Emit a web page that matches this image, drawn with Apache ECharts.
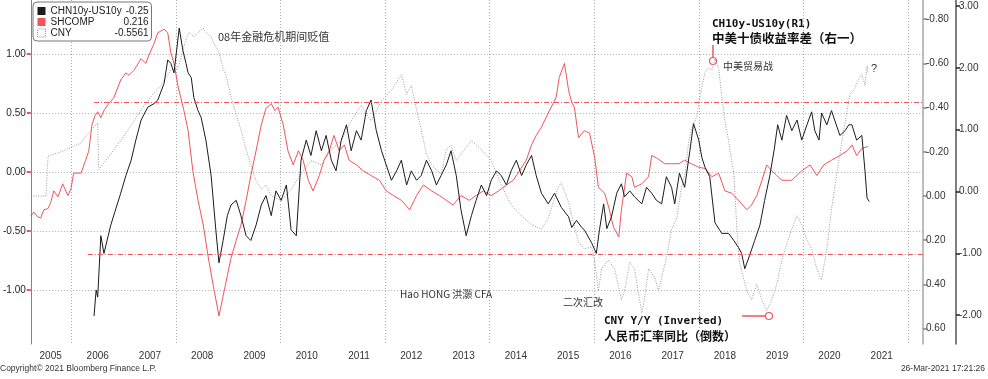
<!DOCTYPE html>
<html><head><meta charset="utf-8">
<script src="https://cdn.jsdelivr.net/npm/echarts@6/dist/echarts.min.js"></script>
<style>html,body{margin:0;padding:0;background:#fff}#c{width:988px;height:379px}</style>
</head><body><div id="c"></div>
<script>
// ---- data (x = decimal year) ----
const shcomp = [[2005.22,-0.37],[2005.28,-0.34],[2005.35,-0.38],[2005.41,-0.39],[2005.47,-0.32],[2005.55,-0.31],[2005.60,-0.26],[2005.66,-0.16],[2005.74,-0.21],[2005.83,-0.10],[2005.93,-0.20],[2005.99,-0.14],[2006.04,-0.01],[2006.18,-0.01],[2006.27,0.10],[2006.33,0.18],[2006.39,0.40],[2006.45,0.48],[2006.50,0.51],[2006.56,0.46],[2006.62,0.52],[2006.71,0.58],[2006.81,0.63],[2006.94,0.78],[2007.04,0.84],[2007.10,0.82],[2007.19,0.86],[2007.33,0.96],[2007.42,0.92],[2007.48,0.99],[2007.58,1.09],[2007.65,1.18],[2007.77,1.21],[2007.84,1.18],[2007.90,1.01],[2007.96,0.92],[2008.04,0.72],[2008.09,0.63],[2008.15,0.52],[2008.23,0.35],[2008.32,0.01],[2008.42,-0.24],[2008.52,-0.45],[2008.61,-0.71],[2008.71,-0.96],[2008.82,-1.22],[2008.90,-1.05],[2008.98,-0.88],[2009.05,-0.73],[2009.15,-0.58],[2009.24,-0.45],[2009.34,-0.24],[2009.43,-0.03],[2009.53,0.18],[2009.63,0.40],[2009.72,0.54],[2009.82,0.58],[2009.89,0.52],[2009.95,0.55],[2010.05,0.40],[2010.14,0.18],[2010.24,0.06],[2010.34,0.18],[2010.43,0.10],[2010.53,-0.07],[2010.62,-0.16],[2010.74,-0.03],[2010.83,0.10],[2010.93,0.18],[2011.02,0.31],[2011.12,0.18],[2011.22,0.23],[2011.31,0.10],[2011.45,0.06],[2011.58,0.01],[2011.73,-0.03],[2011.89,-0.07],[2012.02,-0.16],[2012.16,-0.20],[2012.31,-0.24],[2012.47,-0.32],[2012.60,-0.20],[2012.73,-0.11],[2012.89,-0.16],[2013.04,-0.20],[2013.17,-0.24],[2013.30,-0.28],[2013.45,-0.20],[2013.61,-0.24],[2013.74,-0.20],[2013.88,-0.16],[2014.03,-0.20],[2014.17,-0.16],[2014.32,-0.11],[2014.45,-0.07],[2014.57,0.01],[2014.70,0.10],[2014.80,0.23],[2014.89,0.31],[2014.99,0.38],[2015.12,0.50],[2015.27,0.63],[2015.33,0.80],[2015.43,0.92],[2015.51,0.69],[2015.57,0.59],[2015.62,0.55],[2015.70,0.29],[2015.81,0.35],[2015.91,0.33],[2016.01,0.12],[2016.08,-0.13],[2016.20,-0.18],[2016.29,-0.32],[2016.37,-0.47],[2016.47,-0.55],[2016.52,-0.32],[2016.62,-0.01],[2016.72,-0.04],[2016.77,-0.13],[2016.91,-0.10],[2017.04,-0.04],[2017.10,0.14],[2017.19,0.12],[2017.35,0.07],[2017.48,0.07],[2017.62,0.07],[2017.73,0.10],[2017.86,0.07],[2018.00,0.04],[2018.12,0.03],[2018.25,-0.04],[2018.38,-0.01],[2018.50,-0.16],[2018.63,-0.18],[2018.76,-0.24],[2018.82,-0.27],[2018.92,-0.32],[2019.01,-0.28],[2019.11,-0.20],[2019.21,-0.07],[2019.30,0.06],[2019.40,0.01],[2019.49,-0.03],[2019.59,-0.07],[2019.78,-0.07],[2019.97,0.01],[2020.13,0.06],[2020.26,-0.03],[2020.39,0.06],[2020.54,0.10],[2020.70,0.14],[2020.84,0.18],[2020.93,0.23],[2021.02,0.14],[2021.12,0.20],[2021.24,0.216]];
const spread = [[2006.43,-1.22],[2006.47,-1.00],[2006.50,-1.06],[2006.56,-0.54],[2006.62,-0.69],[2006.75,-0.45],[2006.94,-0.18],[2007.04,-0.03],[2007.14,0.10],[2007.23,0.27],[2007.33,0.44],[2007.46,0.55],[2007.58,0.58],[2007.65,0.61],[2007.77,0.75],[2007.84,0.95],[2007.90,0.92],[2007.96,0.84],[2008.06,1.22],[2008.13,1.03],[2008.19,0.92],[2008.23,0.84],[2008.29,0.80],[2008.34,0.63],[2008.42,0.52],[2008.48,0.46],[2008.57,0.27],[2008.67,-0.03],[2008.76,-0.49],[2008.82,-0.77],[2008.90,-0.58],[2008.98,-0.37],[2009.05,-0.28],[2009.15,-0.24],[2009.24,-0.37],[2009.34,-0.54],[2009.43,-0.58],[2009.53,-0.45],[2009.63,-0.28],[2009.72,-0.20],[2009.82,-0.37],[2009.91,-0.16],[2010.01,-0.24],[2010.11,-0.11],[2010.20,-0.49],[2010.30,-0.54],[2010.39,0.10],[2010.49,0.27],[2010.58,0.14],[2010.68,0.35],[2010.78,0.18],[2010.87,0.31],[2010.97,0.10],[2011.06,0.01],[2011.16,0.27],[2011.26,0.40],[2011.35,0.18],[2011.45,0.35],[2011.54,0.27],[2011.64,0.52],[2011.73,0.61],[2011.83,0.35],[2011.93,0.18],[2012.02,0.06],[2012.12,-0.07],[2012.22,0.01],[2012.31,0.10],[2012.41,-0.11],[2012.50,0.01],[2012.60,-0.07],[2012.69,-0.03],[2012.79,0.10],[2012.89,0.01],[2012.98,-0.11],[2013.07,-0.03],[2013.17,0.06],[2013.26,0.18],[2013.36,-0.03],[2013.45,-0.32],[2013.55,-0.54],[2013.65,-0.37],[2013.74,-0.24],[2013.84,-0.11],[2013.94,-0.20],[2014.03,-0.07],[2014.13,0.01],[2014.22,-0.03],[2014.32,-0.11],[2014.41,0.01],[2014.51,0.10],[2014.61,-0.03],[2014.70,0.06],[2014.80,0.14],[2014.89,-0.03],[2014.99,-0.18],[2015.12,-0.27],[2015.24,-0.18],[2015.37,-0.30],[2015.51,-0.38],[2015.57,-0.47],[2015.66,-0.41],[2015.76,-0.47],[2015.81,-0.49],[2015.95,-0.60],[2016.04,-0.69],[2016.10,-0.49],[2016.18,-0.27],[2016.24,-0.48],[2016.33,-0.38],[2016.43,-0.18],[2016.52,-0.10],[2016.58,-0.21],[2016.68,-0.16],[2016.77,-0.21],[2016.91,-0.27],[2017.00,-0.13],[2017.10,-0.18],[2017.19,-0.24],[2017.29,-0.27],[2017.38,-0.04],[2017.48,-0.13],[2017.54,-0.27],[2017.63,-0.01],[2017.73,-0.13],[2017.83,0.18],[2017.90,0.41],[2018.00,0.27],[2018.06,0.12],[2018.12,0.04],[2018.21,-0.04],[2018.31,-0.43],[2018.44,-0.52],[2018.57,-0.52],[2018.67,-0.58],[2018.76,-0.64],[2018.82,-0.69],[2018.88,-0.82],[2018.97,-0.71],[2019.07,-0.58],[2019.17,-0.45],[2019.26,-0.24],[2019.36,-0.03],[2019.44,0.18],[2019.51,0.40],[2019.59,0.27],[2019.68,0.48],[2019.78,0.35],[2019.88,0.44],[2019.97,0.27],[2020.07,0.40],[2020.16,0.51],[2020.22,0.35],[2020.30,0.27],[2020.35,0.50],[2020.45,0.40],[2020.54,0.52],[2020.60,0.44],[2020.70,0.31],[2020.80,0.35],[2020.87,0.40],[2020.93,0.40],[2021.02,0.27],[2021.12,0.31],[2021.18,0.01],[2021.22,-0.22],[2021.26,-0.25]];
const cny = [[2005.22,0.00],[2005.51,0.00],[2005.55,-0.18],[2005.80,-0.20],[2005.99,-0.22],[2006.18,-0.24],[2006.27,-0.27],[2006.50,-0.33],[2006.52,-0.12],[2006.56,-0.13],[2006.75,-0.19],[2006.94,-0.25],[2007.14,-0.32],[2007.33,-0.39],[2007.52,-0.45],[2007.71,-0.50],[2007.90,-0.57],[2008.04,-0.58],[2008.13,-0.66],[2008.19,-0.71],[2008.25,-0.74],[2008.34,-0.72],[2008.42,-0.74],[2008.52,-0.76],[2008.57,-0.74],[2008.67,-0.72],[2008.73,-0.69],[2008.82,-0.65],[2008.90,-0.58],[2008.96,-0.54],[2009.05,-0.45],[2009.11,-0.40],[2009.24,-0.30],[2009.34,-0.21],[2009.43,-0.14],[2009.53,-0.07],[2009.63,-0.03],[2009.72,-0.05],[2009.82,0.00],[2010.01,0.02],[2010.20,-0.03],[2010.39,-0.10],[2010.58,-0.16],[2010.78,-0.14],[2010.97,-0.21],[2011.16,-0.25],[2011.35,-0.34],[2011.54,-0.41],[2011.73,-0.34],[2011.93,-0.43],[2012.12,-0.48],[2012.31,-0.55],[2012.41,-0.46],[2012.50,-0.50],[2012.60,-0.39],[2012.69,-0.30],[2012.79,-0.19],[2012.89,-0.14],[2013.07,-0.10],[2013.17,-0.21],[2013.26,-0.23],[2013.36,-0.16],[2013.45,-0.19],[2013.65,-0.25],[2013.84,-0.21],[2014.03,-0.16],[2014.22,-0.05],[2014.41,0.04],[2014.61,0.09],[2014.80,0.13],[2014.99,0.15],[2015.12,0.10],[2015.31,-0.04],[2015.37,-0.06],[2015.51,0.03],[2015.62,0.14],[2015.70,0.21],[2015.81,0.24],[2015.95,0.23],[2016.01,0.30],[2016.08,0.43],[2016.14,0.33],[2016.27,0.29],[2016.39,0.33],[2016.52,0.47],[2016.58,0.43],[2016.68,0.30],[2016.77,0.33],[2016.91,0.53],[2016.96,0.47],[2017.04,0.33],[2017.16,0.37],[2017.23,0.43],[2017.29,0.37],[2017.38,0.28],[2017.48,0.15],[2017.58,0.10],[2017.67,-0.04],[2017.73,-0.09],[2017.81,-0.25],[2017.86,-0.30],[2017.96,-0.36],[2018.02,-0.45],[2018.12,-0.56],[2018.19,-0.58],[2018.25,-0.57],[2018.31,-0.62],[2018.38,-0.58],[2018.44,-0.45],[2018.50,-0.34],[2018.57,-0.25],[2018.67,-0.10],[2018.73,0.15],[2018.78,0.30],[2018.92,0.43],[2019.01,0.47],[2019.11,0.40],[2019.21,0.47],[2019.30,0.52],[2019.40,0.47],[2019.49,0.40],[2019.59,0.29],[2019.68,0.22],[2019.78,0.15],[2019.88,0.09],[2019.97,0.13],[2020.07,0.20],[2020.16,0.24],[2020.26,0.33],[2020.35,0.38],[2020.45,0.24],[2020.54,0.06],[2020.64,-0.10],[2020.74,-0.25],[2020.84,-0.39],[2020.89,-0.46],[2020.97,-0.48],[2021.04,-0.52],[2021.12,-0.55],[2021.18,-0.50],[2021.22,-0.59],[2021.24,-0.5561]];
const seriesNames = ['CHN10y-US10y', 'SHCOMP', 'CNY'];
const legendValues = ['-0.25', '0.216', '-0.5561'];
const yearLabels = ['2005','2006','2007','2008','2009','2010','2011','2012','2013','2014','2015','2016','2017','2018','2019','2020','2021'];
const yearLabelPos = [2005.6,2006.5,2007.5,2008.5,2009.5,2010.5,2011.5,2012.5,2013.5,2014.5,2015.5,2016.5,2017.5,2018.5,2019.5,2020.5,2021.5];
const yearGrid = [2006,2008,2010,2012,2014,2016,2018,2020,2022];
const leftTicks = [-1, -0.5, 0, 0.5, 1];
const r1Ticks = [-0.8, -0.6, -0.4, -0.2, 0, 0.2, 0.4, 0.6];
const r2Ticks = [-2, -1, 0, 1, 2, 3];
const refLevels = [0.593, -0.70];
const refStarts = [2006.43, 2006.31];

// ---- chart ----
const X_MIN = 2005.22, X_MAX = 2022.29;
const RED = '#f0545c', BLACK = '#1c1c1c', GRAY = '#9a9a9a';
const LF = '"Liberation Sans", Arial, sans-serif';
const CJK = '"Noto Sans CJK SC", sans-serif';
const MONO = '"DejaVu Sans Mono", monospace';
const chart = echarts.init(document.getElementById('c'), null, {renderer: 'canvas'});
const grid = 'rgba(150,150,150,0.8)';
const option = {
  animation: false,
  backgroundColor: '#fff',
  grid: {left: 30, right: 65, top: 0, bottom: 35},
  xAxis: {
    type: 'value', min: X_MIN, max: X_MAX,
    axisLine: {show: false},
    axisTick: {show: false, customValues: yearGrid},
    splitLine: {show: true, lineStyle: {color: grid, type: [1, 2], width: 1}},
    axisLabel: {
      customValues: yearLabelPos, margin: 7, color: '#333', fontSize: 10, fontFamily: LF,
      formatter: v => { const i = yearLabelPos.findIndex(p => Math.abs(p - v) < 1e-6); return i >= 0 ? yearLabels[i] : ''; }
    }
  },
  yAxis: [
    {
      type: 'value', position: 'left', min: -1.4576, max: 1.4576,
      axisLine: {show: true, lineStyle: {color: RED, width: 1}},
      axisTick: {show: true, customValues: leftTicks, length: 4, lineStyle: {color: RED, width: 2}},
      axisLabel: {customValues: leftTicks, formatter: v => v.toFixed(2), color: '#222', fontSize: 10, fontFamily: LF, margin: 5},
      splitLine: {show: true, lineStyle: {color: grid, type: [1, 2], width: 1}}
    },
    {
      type: 'value', position: 'right', inverse: true, min: -0.887, max: 0.670,
      axisLine: {show: true, lineStyle: {color: '#a8a8a8', width: 1.5}},
      axisTick: {show: true, customValues: r1Ticks, length: 4, inside: false, lineStyle: {color: '#888', width: 1.5}},
      axisLabel: {customValues: r1Ticks, formatter: v => v.toFixed(2), color: '#333', fontSize: 10, fontFamily: LF, margin: 3},
      splitLine: {show: false}
    },
    {
      type: 'value', position: 'right', offset: 33, min: -2.468, max: 3.099,
      axisLine: {show: true, lineStyle: {color: '#555', width: 1.5}},
      axisTick: {show: true, customValues: r2Ticks, length: 4, lineStyle: {color: '#222', width: 1.5}},
      axisLabel: {customValues: r2Ticks, formatter: v => v.toFixed(2), color: '#333', fontSize: 10, fontFamily: LF, margin: 3},
      splitLine: {show: false}
    }
  ],
  legend: {
    left: 33, top: 2, orient: 'vertical', icon: 'rect', itemWidth: 8, itemHeight: 8, itemGap: 1,
    padding: [4, 3, 3, 4], backgroundColor: '#fff', borderColor: '#777', borderWidth: 1, borderRadius: 4,
    data: [
      {name: seriesNames[0], itemStyle: {color: BLACK}},
      {name: seriesNames[1], itemStyle: {color: RED}},
      {name: seriesNames[2], itemStyle: {color: '#fff', borderColor: '#999', borderWidth: 1, borderType: 'dotted'}}
    ],
    formatter: name => `{n|${name}}{v|${legendValues[seriesNames.indexOf(name)]}}`,
    textStyle: {
      fontFamily: LF, fontSize: 10, color: '#222',
      rich: {n: {width: 68, fontSize: 10, fontFamily: LF, color: '#222', lineHeight: 11}, v: {width: 30, align: 'right', fontSize: 10, fontFamily: LF, color: '#222', lineHeight: 11}}
    }
  },
  series: [
    {
      name: seriesNames[2], type: 'line', yAxisIndex: 1, data: cny, showSymbol: false, symbol: 'none',
      color: GRAY, lineStyle: {color: GRAY, width: 1, type: [1, 1.5]}, z: 2
    },
    {
      name: seriesNames[1], type: 'line', yAxisIndex: 0, data: shcomp, showSymbol: false, symbol: 'none',
      color: RED, lineStyle: {color: RED, width: 1}, z: 3,
      markLine: {
        silent: true, symbol: 'none', label: {show: false},
        lineStyle: {color: RED, type: [5, 2, 1, 2], width: 1},
        data: refLevels.map((lv, i) => [{coord: [refStarts[i], lv]}, {coord: [X_MAX, lv]}])
      }
    },
    {
      name: seriesNames[0], type: 'line', yAxisIndex: 0, data: spread, showSymbol: false, symbol: 'none',
      color: BLACK, lineStyle: {color: BLACK, width: 1}, z: 4
    }
  ],
  graphic: [
    {type: 'text', x: 218, y: 37, style: {text: '08年金融危机期间贬值', font: '11px ' + CJK, fill: '#333', verticalAlign: 'middle'}},
    {type: 'text', x: 712, y: 24, style: {text: 'CH10y-US10y(R1)', font: 'bold 11px ' + MONO, fill: '#111', verticalAlign: 'middle'}},
    {type: 'text', x: 712, y: 38, style: {text: '中美十债收益率差（右一）', font: 'bold 12.5px ' + CJK, fill: '#111', verticalAlign: 'middle'}},
    {type: 'line', shape: {x1: 713, y1: 45, x2: 713, y2: 57}, style: {stroke: RED, lineWidth: 1.5}},
    {type: 'circle', shape: {cx: 713, cy: 61, r: 3.5}, style: {stroke: RED, fill: '#fff', lineWidth: 1.2}},
    {type: 'text', x: 723, y: 66, style: {text: '中美贸易战', font: '10px ' + CJK, fill: '#333', verticalAlign: 'middle'}},
    {type: 'text', x: 871, y: 69, style: {text: '?', font: '11px ' + LF, fill: '#333', verticalAlign: 'middle'}},
    {type: 'text', x: 400, y: 294, style: {text: 'Hao HONG 洪灝 CFA', font: '10px ' + CJK, fill: '#333', verticalAlign: 'middle'}},
    {type: 'text', x: 563, y: 302, style: {text: '二次汇改', font: '10px ' + CJK, fill: '#333', verticalAlign: 'middle'}},
    {type: 'text', x: 604, y: 321, style: {text: 'CNY Y/Y (Inverted)', font: 'bold 11px ' + MONO, fill: '#111', verticalAlign: 'middle'}},
    {type: 'text', x: 604, y: 336, style: {text: '人民币汇率同比（倒数）', font: 'bold 12px ' + CJK, fill: '#111', verticalAlign: 'middle'}},
    {type: 'line', shape: {x1: 742, y1: 316, x2: 765, y2: 316}, style: {stroke: RED, lineWidth: 1.5}},
    {type: 'circle', shape: {cx: 769, cy: 316, r: 3.5}, style: {stroke: RED, fill: '#fff', lineWidth: 1.2}},
    {type: 'text', x: 0, y: 369, style: {text: 'Copyright© 2021 Bloomberg Finance L.P.', font: '8.5px ' + LF, fill: '#333', verticalAlign: 'middle'}},
    {type: 'text', x: 985, y: 369, style: {text: '26-Mar-2021 17:21:26', font: '8.5px ' + LF, fill: '#333', align: 'right', verticalAlign: 'middle'}}
  ]
};
chart.setOption(option);
</script>
</body></html>
